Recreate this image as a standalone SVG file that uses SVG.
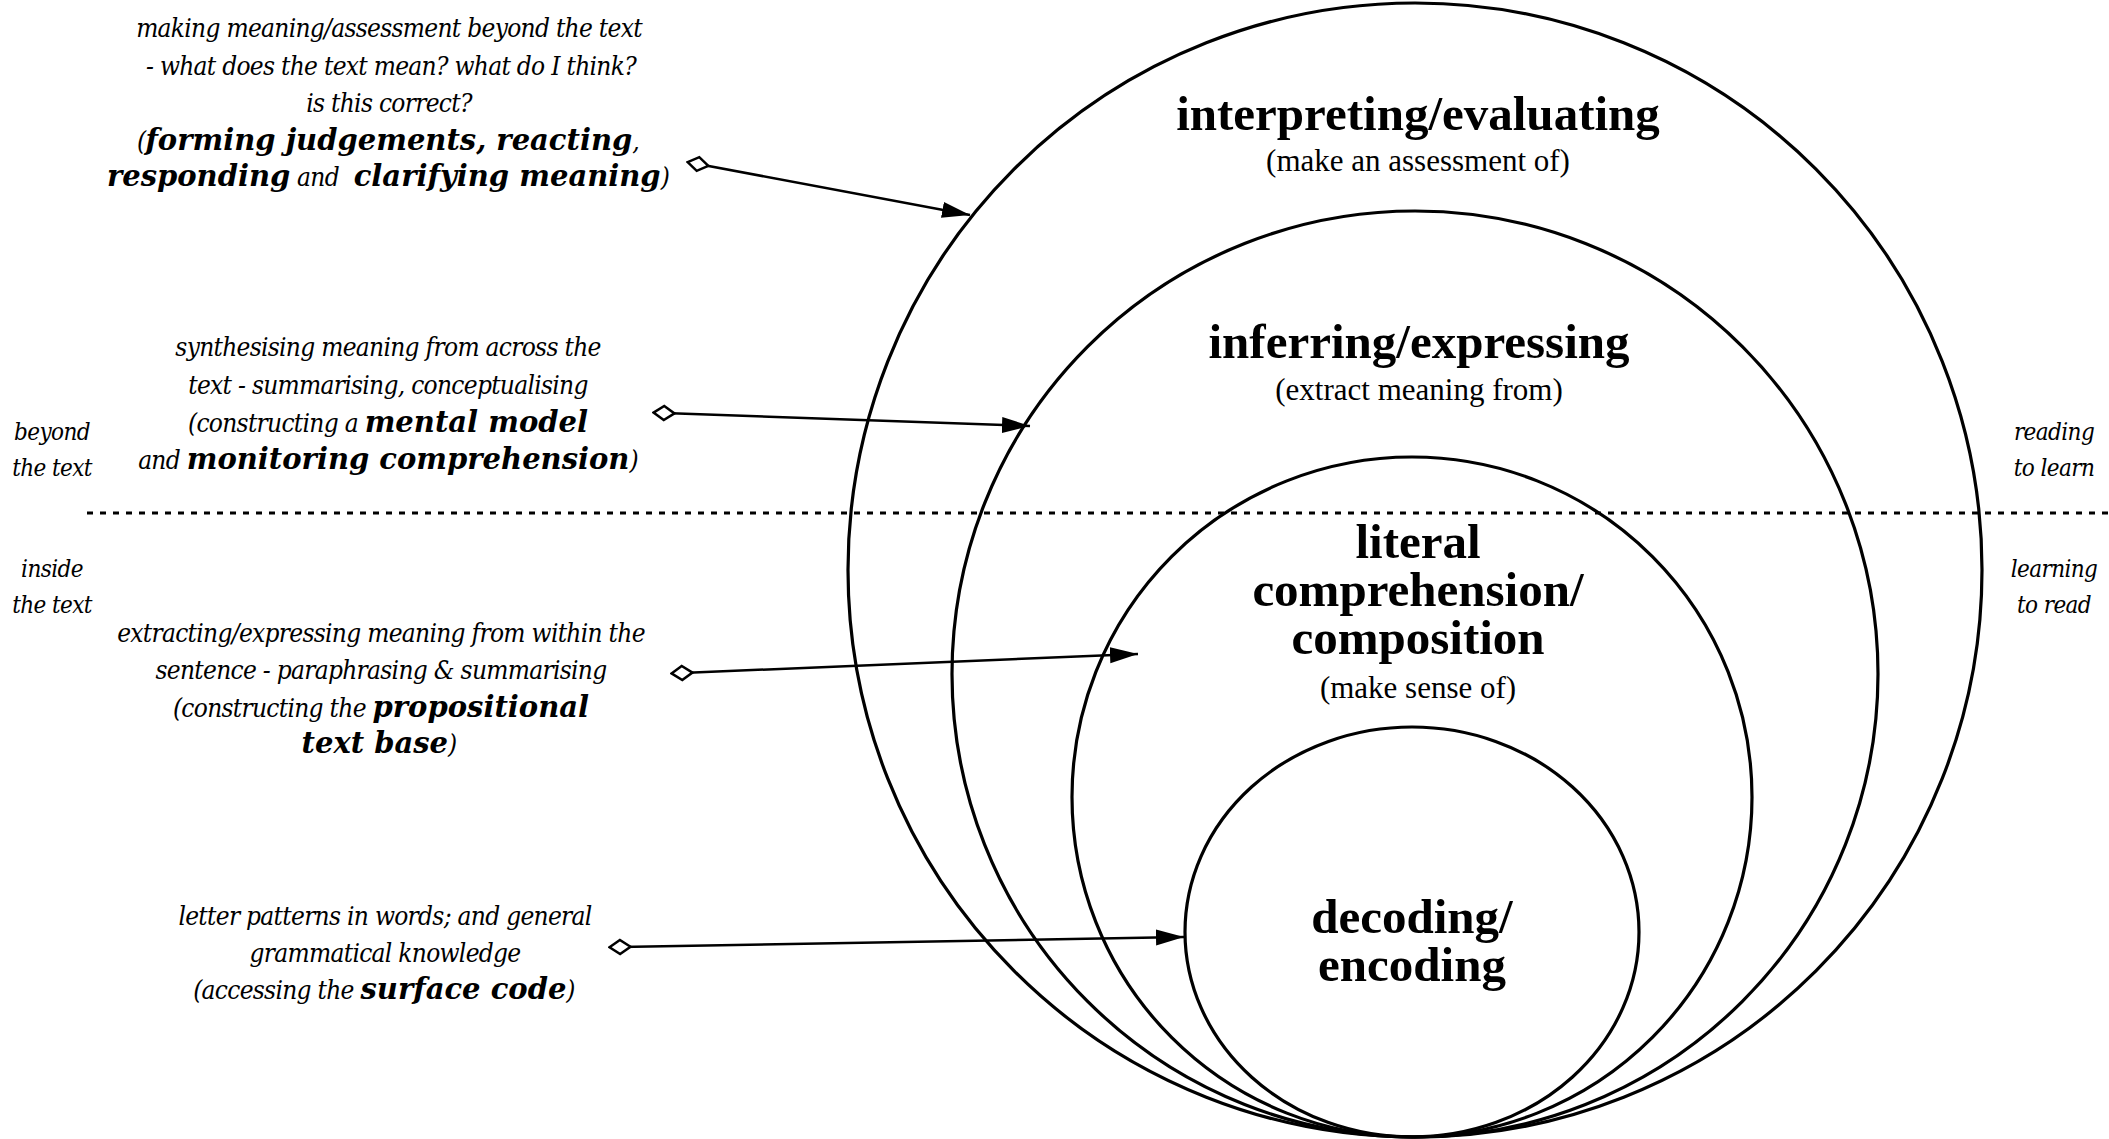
<svg xmlns="http://www.w3.org/2000/svg" width="2109" height="1139" viewBox="0 0 2109 1139">
  <defs>
    <style>
      .ring { fill: none; stroke: #000; stroke-width: 3.2; }
      .divider { stroke: #000; stroke-width: 2.8; stroke-dasharray: 6 7; fill: none; }
      .conn { stroke: #000; stroke-width: 2.5; fill: none; marker-start: url(#diamond); marker-end: url(#head); }
      .it { font-family: "DejaVu Serif Condensed", "DejaVu Serif", serif; font-stretch: condensed; font-style: italic; font-size: 26px; letter-spacing: -0.7px; fill: #000; text-anchor: middle; }
      .side { font-family: "DejaVu Serif Condensed", "DejaVu Serif", serif; font-stretch: condensed; font-style: italic; font-size: 24px; letter-spacing: -0.6px; fill: #000; text-anchor: middle; }
      .bi { font-family: "DejaVu Serif", serif; font-stretch: normal; font-weight: bold; font-style: italic; font-size: 29px; letter-spacing: 0; }
      .ttl { font-family: "Liberation Serif", "Times New Roman", serif; font-weight: bold; font-size: 49px; fill: #000; text-anchor: middle; }
      .sub { font-family: "Liberation Serif", "Times New Roman", serif; font-size: 31px; fill: #000; text-anchor: middle; }
    </style>
    <marker id="diamond" markerUnits="userSpaceOnUse" markerWidth="26" markerHeight="20" refX="12" refY="9" orient="auto">
      <path d="M1.5,9 L12,2 L22.5,9 L12,16 Z" fill="#fff" stroke="#000" stroke-width="2.5"/>
    </marker>
    <marker id="head" markerUnits="userSpaceOnUse" markerWidth="30" markerHeight="18" refX="28" refY="8" orient="auto">
      <path d="M0,0 L28,8 L0,16 Z" fill="#000"/>
    </marker>
  </defs>

  <rect width="2109" height="1139" fill="#fff"/>

  <!-- nested levels, all touching at the bottom -->
  <g id="level-interpreting">
    <circle class="ring" cx="1415" cy="570" r="567"/>
    <text class="ttl" x="1418" y="130">interpreting/evaluating</text>
    <text class="sub" x="1418" y="171">(make an assessment of)</text>
  </g>
  <g id="level-inferring">
    <circle class="ring" cx="1415" cy="674" r="463"/>
    <text class="ttl" x="1419" y="358">inferring/expressing</text>
    <text class="sub" x="1419" y="400">(extract meaning from)</text>
  </g>
  <g id="level-literal">
    <circle class="ring" cx="1412" cy="797" r="340"/>
    <text class="ttl" x="1418" y="558">literal</text>
    <text class="ttl" x="1418" y="606">comprehension/</text>
    <text class="ttl" x="1418" y="654">composition</text>
    <text class="sub" x="1418" y="698">(make sense of)</text>
  </g>
  <g id="level-decoding">
    <ellipse class="ring" cx="1412" cy="932" rx="227" ry="205"/>
    <text class="ttl" x="1412" y="933">decoding/</text>
    <text class="ttl" x="1412" y="981">encoding</text>
  </g>

  <!-- boundary between the two halves -->
  <line id="divider" class="divider" x1="87" y1="513" x2="2109" y2="513"/>

  <g id="side-labels">
    <text class="side" x="52" y="440">beyond</text>
    <text class="side" x="52" y="476">the text</text>
    <text class="side" x="52" y="577">inside</text>
    <text class="side" x="52" y="613">the text</text>
    <text class="side" x="2054" y="440">reading</text>
    <text class="side" x="2054" y="476">to learn</text>
    <text class="side" x="2054" y="577">learning</text>
    <text class="side" x="2054" y="613">to read</text>
  </g>

  <g id="connectors">
    <line class="conn" x1="698" y1="164" x2="970" y2="215"/>
    <line class="conn" x1="664" y1="413" x2="1030" y2="426"/>
    <line class="conn" x1="682" y1="673" x2="1138" y2="654"/>
    <line class="conn" x1="620" y1="947" x2="1184" y2="937"/>
  </g>

  <g id="note-evaluating">
    <text class="it" x="389" y="37">making meaning/assessment beyond the text</text>
    <text class="it" x="391" y="75">- what does the text mean? what do I think?</text>
    <text class="it" x="389" y="112">is this correct?</text>
    <text class="it" x="388" y="150">(<tspan class="bi">forming judgements, reacting</tspan>,</text>
    <text class="it" x="388" y="186"><tspan class="bi">responding</tspan> and <tspan class="bi" dx="8">clarifying meaning</tspan>)</text>
  </g>

  <g id="note-inferring">
    <text class="it" x="388" y="356">synthesising meaning from across the</text>
    <text class="it" x="388" y="394">text - summarising, conceptualising</text>
    <text class="it" x="388" y="432">(constructing a <tspan class="bi">mental model</tspan></text>
    <text class="it" x="388" y="469">and <tspan class="bi">monitoring comprehension</tspan>)</text>
  </g>

  <g id="note-literal">
    <text class="it" x="381" y="642">extracting/expressing meaning from within the</text>
    <text class="it" x="381" y="679">sentence - paraphrasing &amp; summarising</text>
    <text class="it" x="381" y="717">(constructing the <tspan class="bi">propositional</tspan></text>
    <text class="it" x="379" y="753"><tspan class="bi">text base</tspan>)</text>
  </g>

  <g id="note-decoding">
    <text class="it" x="385" y="925">letter patterns in words; and general</text>
    <text class="it" x="385" y="962">grammatical knowledge</text>
    <text class="it" x="384" y="999">(accessing the <tspan class="bi">surface code</tspan>)</text>
  </g>
</svg>
